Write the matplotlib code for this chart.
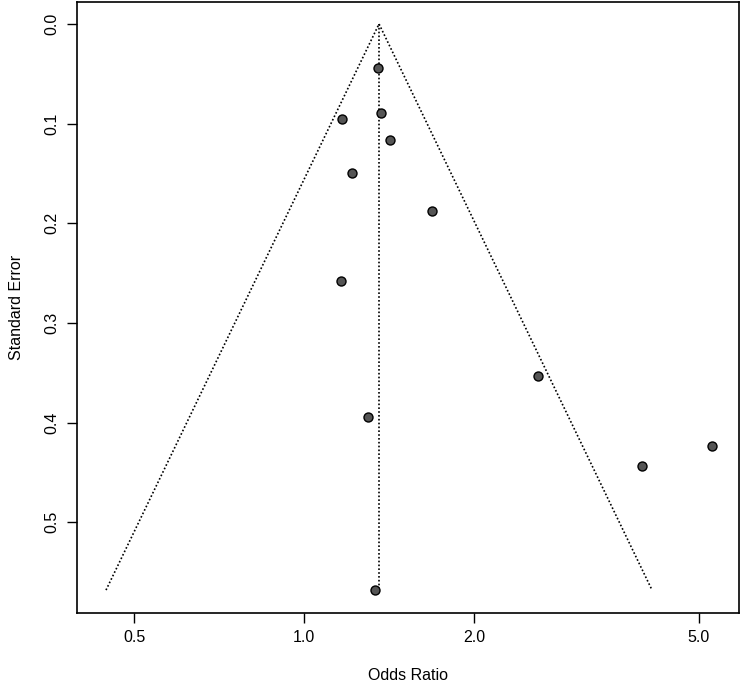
import numpy as np
import matplotlib
matplotlib.use("Agg")
import matplotlib.pyplot as plt

plt.rcParams['font.family'] = ['Liberation Sans', 'DejaVu Sans']

# Data
odds_ratio = [1.352, 1.368, 1.168, 1.420, 1.216, 1.685, 1.163, 2.595, 1.298, 5.27, 3.96, 1.336]
std_error = [0.044, 0.089, 0.095, 0.116, 0.150, 0.188, 0.258, 0.353, 0.394, 0.423, 0.444, 0.568]
pooled_or = 1.357
x_ticks = [0.5, 1.0, 2.0, 5.0]
x_tick_labels = ["0.5", "1.0", "2.0", "5.0"]
y_ticks = [0.0, 0.1, 0.2, 0.3, 0.4, 0.5]
y_tick_labels = ["0.0", "0.1", "0.2", "0.3", "0.4", "0.5"]

fig = plt.figure(figsize=(7.5, 6.9), dpi=100)
ax = fig.add_axes([77/750, 1 - 613/690, (739-77)/750, (613-2)/690])

ax.set_xscale('log')
ax.set_xlim(0.396, 5.89)
ax.set_ylim(0.591, -0.022)

# funnel
se_max = max(std_error)
center = np.log(pooled_or)
lo = np.exp(center - 1.96 * se_max)
hi = np.exp(center + 1.96 * se_max)
ax.plot([lo, pooled_or, hi], [se_max, 0, se_max], color='black', lw=1.2,
        linestyle=(0, (1, 1.3)), zorder=1)
ax.plot([pooled_or, pooled_or], [0, se_max], color='black', lw=1.2,
        linestyle=(0, (1, 1.3)), zorder=1)

ax.scatter(odds_ratio, std_error, s=42, facecolor='#555555', edgecolor='black',
           linewidths=1.0, zorder=3)

ax.set_xticks(x_ticks)
ax.set_xticklabels(x_tick_labels)
ax.xaxis.set_minor_locator(matplotlib.ticker.NullLocator())
ax.set_yticks(y_ticks)
ax.set_yticklabels(y_tick_labels, rotation=90, va='center')

ax.tick_params(axis='both', direction='out', length=7.5, width=1.0, labelsize=11.5,
               color='black', pad=5)
for sp in ax.spines.values():
    sp.set_linewidth(1.2)

ax.set_xlabel('Odds Ratio', fontsize=11.5, labelpad=16)
ax.set_ylabel('Standard Error', fontsize=11.5, labelpad=15)

fig.savefig('out.png', dpi=100)
